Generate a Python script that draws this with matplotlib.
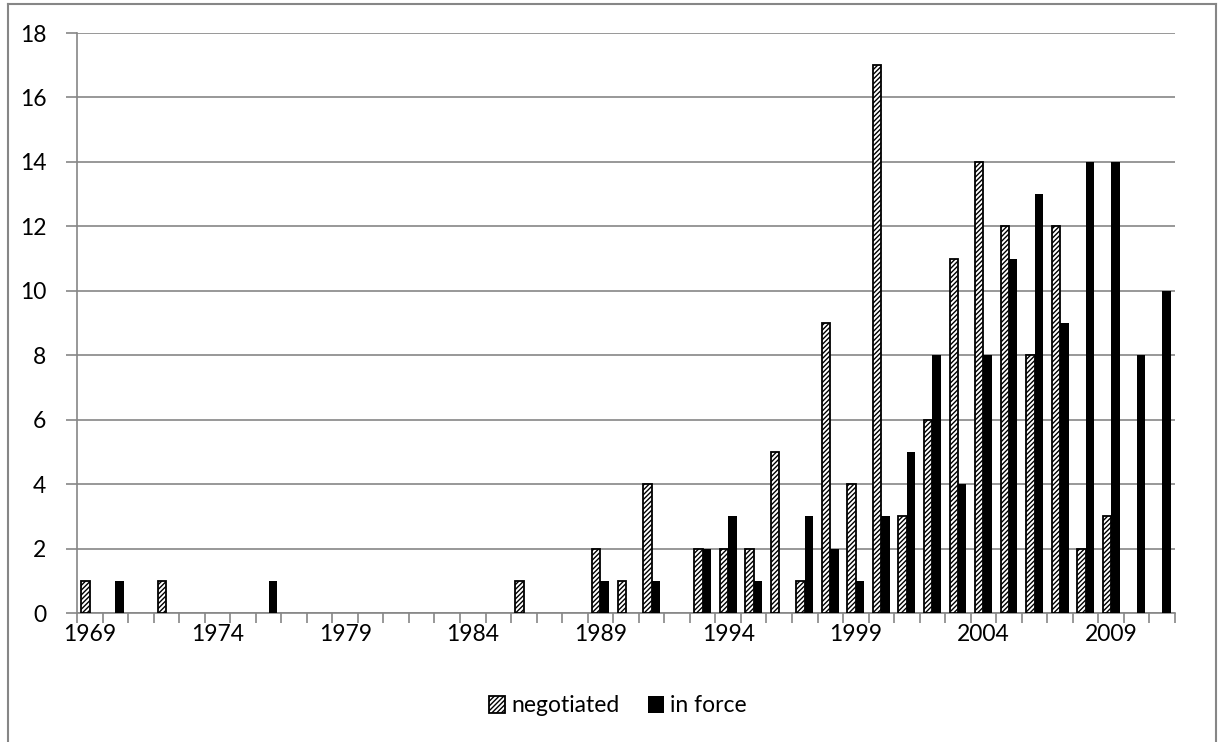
import numpy as np
import matplotlib
matplotlib.use("Agg")
from matplotlib import pyplot as plt
from matplotlib.lines import Line2D
from matplotlib.ticker import FixedLocator

plt.rcParams["font.family"] = ["Lato", "DejaVu Sans"]
plt.rcParams["hatch.linewidth"] = 1.0

years = list(range(1969, 2012))
negotiated = [1, 0, 0, 1, 0, 0, 0, 0, 0, 0,
              0, 0, 0, 0, 0, 0, 0, 1, 0, 0,
              2, 1, 4, 0, 2, 2, 2, 5, 1, 9,
              4, 17, 3, 6, 11, 14, 12, 8, 12, 2,
              3, 0, 0]
in_force = [0, 1, 0, 0, 0, 0, 0, 1, 0, 0,
            0, 0, 0, 0, 0, 0, 0, 0, 0, 0,
            1, 0, 1, 0, 2, 3, 1, 0, 3, 2,
            1, 3, 5, 8, 4, 8, 11, 13, 9, 14,
            14, 8, 10]

grey = "#868686"
x = np.arange(len(years))
w = 0.33
fs = 16.5

# zero counts get no bar at all
neg = np.where(np.array(negotiated) > 0, negotiated, np.nan)
inf = np.where(np.array(in_force) > 0, in_force, np.nan)

fig = plt.figure(figsize=(12.18, 7.42), dpi=100)
ax = fig.add_axes([77 / 1218, 1 - 613 / 742, (1175 - 77) / 1218, (613 - 33) / 742])

ax.bar(x - w / 2, neg, w, color="white", edgecolor="black",
       hatch="///////", linewidth=1.3, label="negotiated", zorder=3)
ax.bar(x + w / 2, inf, w, color="black", edgecolor="black",
       linewidth=0, label="in force", zorder=3)

ax.set_xlim(-0.5, len(years) - 0.5)
ax.set_ylim(0, 18)
ax.set_yticks(range(0, 19, 2))
ax.yaxis.grid(True, color=grey, linewidth=1.2)
ax.set_axisbelow(True)

ax.xaxis.set_major_locator(FixedLocator(x[::5]))
ax.set_xticklabels([str(y) for y in years[::5]])
ax.xaxis.set_minor_locator(FixedLocator(np.arange(-0.5, len(years), 1)))
ax.tick_params(axis="x", which="major", length=0, pad=8, labelsize=fs)
ax.tick_params(axis="x", which="minor", length=7, width=1.2, color=grey)
ax.tick_params(axis="y", length=8, width=1.2, color=grey, labelsize=fs, pad=14)

for s in ["top", "right"]:
    ax.spines[s].set_visible(False)
for s in ["left", "bottom"]:
    ax.spines[s].set_color(grey)
    ax.spines[s].set_linewidth(1.2)

fig.legend(loc="center", bbox_to_anchor=(618 / 1218, 1 - 706 / 742), ncol=2,
           frameon=False, fontsize=fs, handlelength=0.7, handleheight=0.7,
           columnspacing=1.2, handletextpad=0.3)

# chart area border
fig.add_artist(Line2D([8 / 1218, 8 / 1218], [0, 1 - 4 / 742], color=grey, lw=1.5))
fig.add_artist(Line2D([8 / 1218, 1216 / 1218], [1 - 4 / 742, 1 - 4 / 742], color=grey, lw=1.5))
fig.add_artist(Line2D([1216 / 1218, 1216 / 1218], [0, 1 - 4 / 742], color=grey, lw=1.5))

fig.savefig("out.png", dpi=100)
